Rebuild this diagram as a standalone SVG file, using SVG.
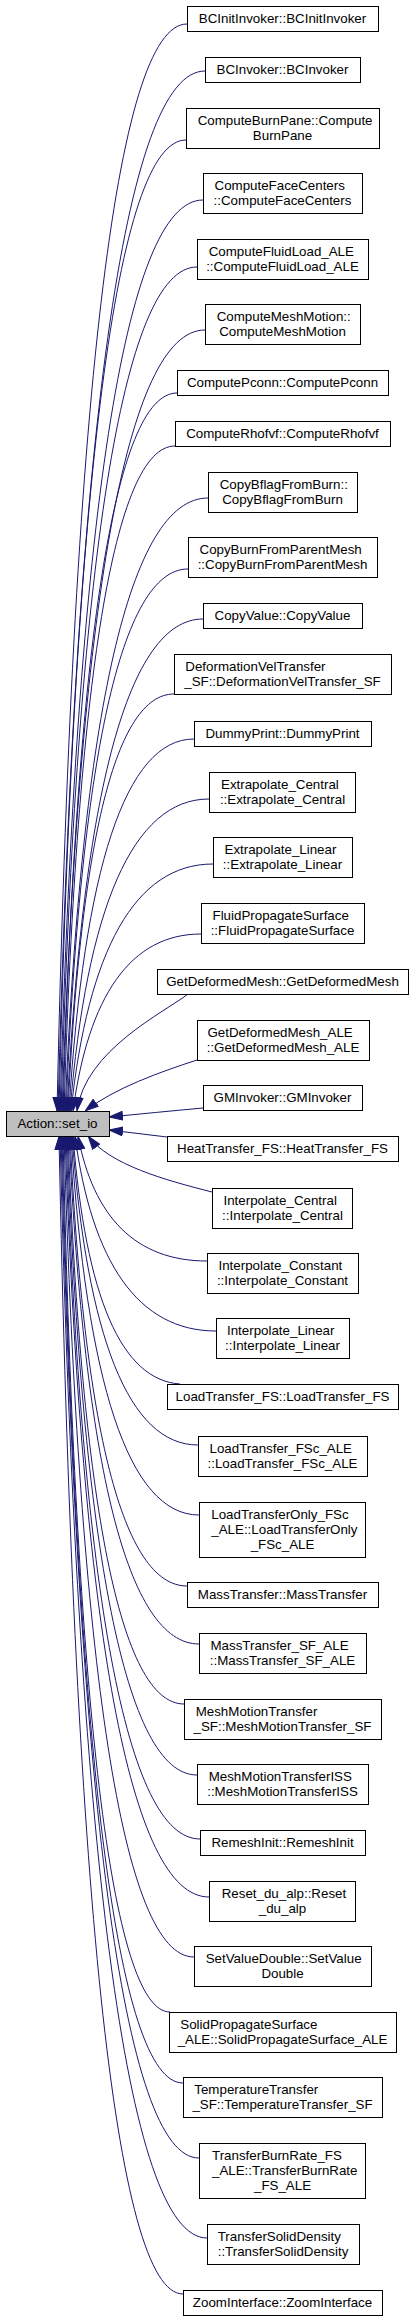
<svg xmlns="http://www.w3.org/2000/svg" width="413" height="2321" viewBox="0 0 413 2321">
<style>
.node rect{fill:#ffffff;stroke:#000000;stroke-width:1}
.node.hl rect{fill:#bfbfbf}
text{font-family:"Liberation Sans",Arial,Helvetica,sans-serif;font-size:13.33px;fill:#000000}
.m{text-anchor:middle}
.s{text-anchor:start}
.edges path{fill:none;stroke:#191970;stroke-width:1;marker-end:url(#ah)}
</style>
<defs>
<marker id="ah" markerUnits="userSpaceOnUse" markerWidth="14" markerHeight="10" viewBox="0 0 13 9" refX="13" refY="4.5" orient="auto">
<path d="M0.5,0.5 L12.5,4.5 L0.5,8.5 z" fill="#191970" stroke="#191970" stroke-width="1"/>
</marker>
</defs>
<rect width="413" height="2321" fill="#ffffff"/>
<g class="edges">
<path d="M187,24 C115.5,24 72.6,404.5 57,1111"/>
<path d="M205,71 C124.2,71 75.6,435 58,1111"/>
<path d="M186,140 C116.2,140 74.2,479.9 59,1111"/>
<path d="M203,200 C124.4,200 77.2,518.9 60,1111"/>
<path d="M197,267 C122.2,267 77.3,562.4 61,1111"/>
<path d="M205,330 C126.4,330 79.2,603.4 62,1111"/>
<path d="M177,393 C114.3,393 76.7,644.3 63,1111"/>
<path d="M175,446 C114,446 77.3,678.8 64,1111"/>
<path d="M208,498 C129.4,498 82.2,712.6 65,1111"/>
<path d="M188,569 C120.9,569 80.6,758.7 66,1111"/>
<path d="M203,619 C128.2,619 83.3,791.2 67,1111"/>
<path d="M174,694 C115.7,694 80.7,840 68,1111"/>
<path d="M194,739 C125.3,739 84,869.2 69,1111"/>
<path d="M209,799 C132.6,799 86.7,908.2 70,1111"/>
<path d="M213,864 C134.9,864 88,950.5 71,1111"/>
<path d="M201,934 C130.6,934 88.4,996 73,1111"/>
<path d="M188,994 C165,1012 85,1050 77,1111"/>
<path d="M197,1060 C160,1072 115,1088 85,1111"/>
<path d="M203,1108 C170,1111 140,1114 109,1117"/>
<path d="M167,1137 C148,1135 128,1132 109,1130"/>
<path d="M212,1192 C165,1180 110,1165 88,1136"/>
<path d="M207,1261 C136,1261 93.5,1217.3 78,1136"/>
<path d="M216,1331 C138.5,1331 91.9,1262.8 75,1136"/>
<path d="M180,1384 C121.2,1380 85.8,1297.2 73,1136"/>
<path d="M198,1445 C128.7,1445 87.1,1336.8 72,1136"/>
<path d="M199,1515 C128.6,1515 86.4,1382.3 71,1136"/>
<path d="M187,1586 C122.7,1586 84,1428.5 70,1136"/>
<path d="M199,1644 C127.5,1644 84.6,1466.2 69,1136"/>
<path d="M184,1704 C120.2,1704 81.9,1505.2 68,1136"/>
<path d="M197,1775 C125.5,1775 82.6,1551.4 67,1136"/>
<path d="M200,1839 C126.3,1839 82.1,1593 66,1136"/>
<path d="M209,1897 C129.8,1897 82.3,1630.7 65,1136"/>
<path d="M194,1957 C122.5,1957 79.6,1669.7 64,1136"/>
<path d="M170,2012 C111.2,2012 75.8,1705.4 63,1136"/>
<path d="M183,2083 C116.5,2083 76.5,1751.6 62,1136"/>
<path d="M199,2158 C123.1,2158 77.6,1800.3 61,1136"/>
<path d="M207,2238 C126.2,2238 77.6,1852.3 60,1136"/>
<path d="M183,2294 C114.8,2294 73.9,1888.7 59,1136"/>
</g>
<g id="n0" class="node hl"><rect x="6.5" y="1111.5" width="103" height="25"/><text class="m" x="57.5" y="1128">Action::set_io</text></g>
<g id="n1" class="node"><rect x="187.5" y="6.5" width="191" height="25"/><text class="m" x="282.5" y="23">BCInitInvoker::BCInitInvoker</text></g>
<g id="n2" class="node"><rect x="205.5" y="57.5" width="155" height="25"/><text class="m" x="282.5" y="74">BCInvoker::BCInvoker</text></g>
<g id="n3" class="node"><rect x="186.5" y="108.5" width="193" height="40"/><text class="s" x="197.7" y="124.5">ComputeBurnPane::Compute</text><text class="m" x="282.5" y="139.5">BurnPane</text></g>
<g id="n4" class="node"><rect x="203.5" y="173.5" width="159" height="40"/><text class="s" x="214.5" y="189.5">ComputeFaceCenters</text><text class="m" x="282.5" y="204.5">::ComputeFaceCenters</text></g>
<g id="n5" class="node"><rect x="197.5" y="239.5" width="171" height="40"/><text class="s" x="208.7" y="255.5">ComputeFluidLoad_ALE</text><text class="m" x="282.5" y="270.5">::ComputeFluidLoad_ALE</text></g>
<g id="n6" class="node"><rect x="205.5" y="304.5" width="155" height="40"/><text class="s" x="216.7" y="320.5">ComputeMeshMotion::</text><text class="m" x="282.5" y="335.5">ComputeMeshMotion</text></g>
<g id="n7" class="node"><rect x="177.5" y="370.5" width="211" height="25"/><text class="m" x="282.5" y="387">ComputePconn::ComputePconn</text></g>
<g id="n8" class="node"><rect x="175.5" y="421.5" width="215" height="25"/><text class="m" x="282.5" y="438">ComputeRhofvf::ComputeRhofvf</text></g>
<g id="n9" class="node"><rect x="208.5" y="472.5" width="149" height="40"/><text class="s" x="219.7" y="488.5">CopyBflagFromBurn::</text><text class="m" x="282.5" y="503.5">CopyBflagFromBurn</text></g>
<g id="n10" class="node"><rect x="188.5" y="537.5" width="189" height="40"/><text class="s" x="199.5" y="553.5">CopyBurnFromParentMesh</text><text class="m" x="282.5" y="568.5">::CopyBurnFromParentMesh</text></g>
<g id="n11" class="node"><rect x="203.5" y="603.5" width="159" height="25"/><text class="m" x="282.5" y="620">CopyValue::CopyValue</text></g>
<g id="n12" class="node"><rect x="174.5" y="654.5" width="217" height="40"/><text class="s" x="185.3" y="670.5">DeformationVelTransfer</text><text class="m" x="282.5" y="685.5">_SF::DeformationVelTransfer_SF</text></g>
<g id="n13" class="node"><rect x="194.5" y="721.5" width="177" height="25"/><text class="m" x="282.5" y="738">DummyPrint::DummyPrint</text></g>
<g id="n14" class="node"><rect x="209.5" y="772.5" width="146" height="40"/><text class="s" x="221" y="788.5">Extrapolate_Central</text><text class="m" x="282.5" y="803.5">::Extrapolate_Central</text></g>
<g id="n15" class="node"><rect x="213.5" y="837.5" width="139" height="40"/><text class="s" x="224.5" y="853.5">Extrapolate_Linear</text><text class="m" x="282.5" y="868.5">::Extrapolate_Linear</text></g>
<g id="n16" class="node"><rect x="201.5" y="903.5" width="163" height="40"/><text class="s" x="212.5" y="919.5">FluidPropagateSurface</text><text class="m" x="282.5" y="934.5">::FluidPropagateSurface</text></g>
<g id="n17" class="node"><rect x="157.5" y="969.5" width="251" height="25"/><text class="m" x="282.5" y="986">GetDeformedMesh::GetDeformedMesh</text></g>
<g id="n18" class="node"><rect x="197.5" y="1020.5" width="172" height="40"/><text class="s" x="207.5" y="1036.5">GetDeformedMesh_ALE</text><text class="m" x="283" y="1051.5">::GetDeformedMesh_ALE</text></g>
<g id="n19" class="node"><rect x="203.5" y="1085.5" width="159" height="25"/><text class="m" x="282.5" y="1102">GMInvoker::GMInvoker</text></g>
<g id="n20" class="node"><rect x="167.5" y="1136.5" width="231" height="25"/><text class="m" x="282.5" y="1153">HeatTransfer_FS::HeatTransfer_FS</text></g>
<g id="n21" class="node"><rect x="212.5" y="1188.5" width="140" height="40"/><text class="s" x="223.5" y="1204.5">Interpolate_Central</text><text class="m" x="282.5" y="1219.5">::Interpolate_Central</text></g>
<g id="n22" class="node"><rect x="207.5" y="1253.5" width="151" height="40"/><text class="s" x="218.5" y="1269.5">Interpolate_Constant</text><text class="m" x="282.5" y="1284.5">::Interpolate_Constant</text></g>
<g id="n23" class="node"><rect x="216.5" y="1318.5" width="133" height="40"/><text class="s" x="227" y="1334.5">Interpolate_Linear</text><text class="m" x="282.5" y="1349.5">::Interpolate_Linear</text></g>
<g id="n24" class="node"><rect x="167.5" y="1384.5" width="231" height="25"/><text class="m" x="282.5" y="1401">LoadTransfer_FS::LoadTransfer_FS</text></g>
<g id="n25" class="node"><rect x="198.5" y="1436.5" width="169" height="40"/><text class="s" x="209.5" y="1452.5">LoadTransfer_FSc_ALE</text><text class="m" x="282.5" y="1467.5">::LoadTransfer_FSc_ALE</text></g>
<g id="n26" class="node"><rect x="199.5" y="1502.5" width="166" height="55"/><text class="s" x="211.3" y="1518.5">LoadTransferOnly_FSc</text><text class="s" x="211.3" y="1533.5">_ALE::LoadTransferOnly</text><text class="m" x="282.5" y="1548.5">_FSc_ALE</text></g>
<g id="n27" class="node"><rect x="187.5" y="1582.5" width="191" height="25"/><text class="m" x="282.5" y="1599">MassTransfer::MassTransfer</text></g>
<g id="n28" class="node"><rect x="199.5" y="1633.5" width="167" height="40"/><text class="s" x="210.5" y="1649.5">MassTransfer_SF_ALE</text><text class="m" x="282.5" y="1664.5">::MassTransfer_SF_ALE</text></g>
<g id="n29" class="node"><rect x="184.5" y="1699.5" width="197" height="40"/><text class="s" x="195.7" y="1715.5">MeshMotionTransfer</text><text class="m" x="282.5" y="1730.5">_SF::MeshMotionTransfer_SF</text></g>
<g id="n30" class="node"><rect x="197.5" y="1764.5" width="171" height="40"/><text class="s" x="208.7" y="1780.5">MeshMotionTransferISS</text><text class="m" x="282.5" y="1795.5">::MeshMotionTransferISS</text></g>
<g id="n31" class="node"><rect x="200.5" y="1830.5" width="165" height="25"/><text class="m" x="282.5" y="1847">RemeshInit::RemeshInit</text></g>
<g id="n32" class="node"><rect x="209.5" y="1881.5" width="146" height="40"/><text class="s" x="221.7" y="1897.5">Reset_du_alp::Reset</text><text class="m" x="282.5" y="1912.5">_du_alp</text></g>
<g id="n33" class="node"><rect x="194.5" y="1946.5" width="177" height="40"/><text class="s" x="205.7" y="1962.5">SetValueDouble::SetValue</text><text class="m" x="282.5" y="1977.5">Double</text></g>
<g id="n34" class="node"><rect x="169.5" y="2012.5" width="227" height="40"/><text class="s" x="180.3" y="2028.5">SolidPropagateSurface</text><text class="m" x="282.5" y="2043.5">_ALE::SolidPropagateSurface_ALE</text></g>
<g id="n35" class="node"><rect x="183.5" y="2077.5" width="199" height="40"/><text class="s" x="194.3" y="2093.5">TemperatureTransfer</text><text class="m" x="282.5" y="2108.5">_SF::TemperatureTransfer_SF</text></g>
<g id="n36" class="node"><rect x="199.5" y="2143.5" width="166" height="55"/><text class="s" x="212" y="2159.5">TransferBurnRate_FS</text><text class="s" x="212" y="2174.5">_ALE::TransferBurnRate</text><text class="m" x="282.5" y="2189.5">_FS_ALE</text></g>
<g id="n37" class="node"><rect x="207.5" y="2224.5" width="152" height="40"/><text class="s" x="217.7" y="2240.5">TransferSolidDensity</text><text class="m" x="283" y="2255.5">::TransferSolidDensity</text></g>
<g id="n38" class="node"><rect x="183.5" y="2290.5" width="199" height="25"/><text class="m" x="282.5" y="2307">ZoomInterface::ZoomInterface</text></g>
</svg>
